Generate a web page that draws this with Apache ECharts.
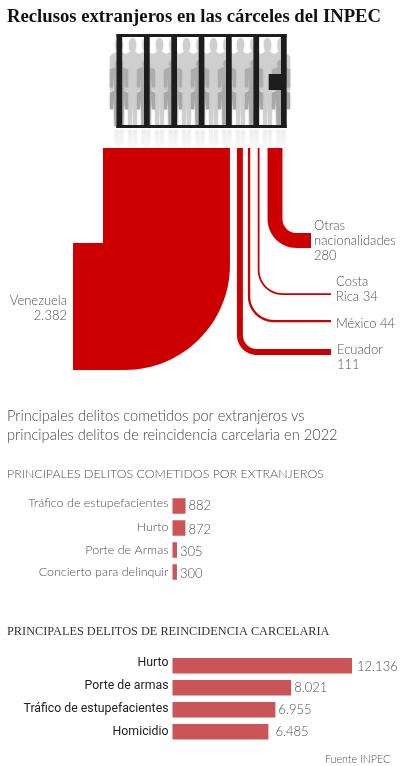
<!DOCTYPE html>
<html>
<head>
<meta charset="utf-8">
<style>html,body{margin:0;padding:0;background:#fff}#chart{width:400px;height:766px}</style>
<script src="https://cdn.jsdelivr.net/npm/echarts@6/dist/echarts.min.js"></script>
</head>
<body>
<div id="chart"></div>
<script>
// reclusos por nacionalidad
var paises = ['Venezuela', 'Ecuador', 'México', 'Costa\nRica', 'Otras\nnacionalidades'];
var reclusos = [2382, 111, 44, 34, 280];

var delitosExtranjeros = ['Tráfico de estupefacientes', 'Hurto', 'Porte de Armas', 'Concierto para delinquir'];
var valoresExtranjeros = [882, 872, 305, 300];

var delitosReincidencia = ['Hurto', 'Porte de armas', 'Tráfico de estupefacientes', 'Homicidio'];
var valoresReincidencia = [12136, 8021, 6955, 6485];

var SANS = 'Lato';
var RED = '#cc0000';
var BAR = '#cb5456';
var GREY = '#505050';

// recorrido de cada franja: hueco previo, fin horizontal, banda final, radio
var gaps = [0, 7, 5, 7.5, 8];
var flowEndX = [73, 331, 331, 331, 311];
var flowBandTop = [243, 349, 320, 293.2, 233];
var flowRadius = [105, 20, 26, 25, 29];
var labelPos = [[67, 308, 'right'], [337, 357.5, 'left'], [336, 324, 'left'], [336, 289, 'left'], [314, 240.5, 'left']];

function miles(v) {
    return String(v).replace(/\B(?=(\d{3})+$)/g, '.');
}

var TOP = 148, FLOW_LEFT = 103;
var K = 0.0533; // px por recluso

function renderFlow(params, api) {
    var i = params.dataIndex;
    var w = api.size([api.value(1), 0])[0];
    var before = 0;
    for (var n = 0; n < i; n++) before += reclusos[n] * K;
    for (n = 0; n <= i; n++) before += gaps[n];
    var x0 = FLOW_LEFT + before, x1 = x0 + w;
    var yT = flowBandTop[i], yB = yT + w;
    var r = flowRadius[i], c = 0.5523, d, rect;
    if (i === 0) {
        // gira a la izquierda
        d = 'M' + x0 + ' ' + TOP + 'L' + x1 + ' ' + TOP + 'L' + x1 + ' ' + (yB - r)
          + 'C' + x1 + ' ' + (yB - r + r * c) + ' ' + (x1 - r + r * c) + ' ' + yB + ' ' + (x1 - r) + ' ' + yB
          + 'L' + flowEndX[i] + ' ' + yB + 'L' + flowEndX[i] + ' ' + yT + 'L' + x0 + ' ' + yT + 'Z';
        rect = { x: flowEndX[i], y: TOP, width: x1 - flowEndX[i], height: yB - TOP };
    } else {
        var ri = Math.max(r - w, 0);
        d = 'M' + x0 + ' ' + TOP + 'L' + x1 + ' ' + TOP + 'L' + x1 + ' ' + (yT - ri)
          + 'C' + x1 + ' ' + (yT - ri + ri * c) + ' ' + (x1 + ri - ri * c) + ' ' + yT + ' ' + (x1 + ri) + ' ' + yT
          + 'L' + flowEndX[i] + ' ' + yT + 'L' + flowEndX[i] + ' ' + yB + 'L' + (x0 + r) + ' ' + yB
          + 'C' + (x0 + r - r * c) + ' ' + yB + ' ' + x0 + ' ' + (yB - r + r * c) + ' ' + x0 + ' ' + (yB - r) + 'Z';
        rect = { x: x0, y: TOP, width: flowEndX[i] - x0, height: yB - TOP };
    }
    var lab = labelPos[i];
    var txt = paises[i] + (i === 0 || i === 1 || i === 4 ? '\n' : ' ') + miles(reclusos[i]);
    return {
        type: 'group',
        children: [
            { type: 'path', shape: { pathData: d, x: rect.x, y: rect.y, width: rect.width, height: rect.height, layout: 'cover' }, style: { fill: RED } },
            { type: 'text', style: { text: txt, x: lab[0], y: lab[1], align: lab[2], verticalAlign: 'middle', fill: GREY, font: '300 13px ' + SANS, lineHeight: 15 } }
        ]
    };
}

// figuras del fondo y reja
var MAN = 'M50 0C62 0 70 10 70 24C70 34 66 42 60 46L92 58C98 60 100 66 100 72L100 180L84 180L80 90L76 180L74 300L54 300L50 190L46 300L26 300L24 180L20 90L16 180L0 180L0 72C0 66 2 60 8 58L40 46C34 42 30 34 30 24C30 10 38 0 50 0Z';

function man(x, y, w, h, color) {
    return {
        type: 'path',
        shape: { pathData: MAN, x: x, y: y, width: w, height: h, layout: 'cover' },
        style: { fill: color, shadowBlur: 2, shadowColor: color }
    };
}

function box(x, y, w, h, fill) {
    return { type: 'rect', shape: { x: x, y: y, width: w, height: h }, style: { fill: fill } };
}

function renderJail() {
    var kids = [];
    var i;
    for (i = 0; i < 13; i++) {
        kids.push(man(110 + i * 13.5, 38, 18, 88, '#cfcfcf'));
        // reflejo
        var m = man(110 + i * 13.5, 38, 18, 88, '#d8d8d8');
        m.scaleY = -1;
        m.y = 256;
        kids.push(m);
    }
    for (i = 0; i < 7; i++) {
        kids.push(man(110 + i * 27, 60, 18, 46, '#adadad'));
        kids.push(man(110 + i * 27, 84, 18, 42, '#a8a8a8'));
    }
    kids.push(box(100, 128, 200, 100, new echarts.graphic.LinearGradient(0, 0, 0, 1, [
        { offset: 0, color: 'rgba(255,255,255,0.5)' },
        { offset: 0.28, color: 'rgba(255,255,255,1)' },
        { offset: 1, color: 'rgba(255,255,255,1)' }
    ])));
    var INK = '#1d1d1d';
    kids.push(box(116.5, 34, 170, 3, INK));
    kids.push(box(116.5, 125, 170, 3, INK));
    [116.5, 144, 171.3, 198.7, 226, 253.4, 281].forEach(function (bx) {
        kids.push(box(bx, 34, 5.7, 94, INK));
    });
    kids.push(box(268.7, 74, 13, 16, INK));
    return { type: 'group', children: kids };
}

function barSeries(values, axis, nudges) {
    return {
        type: 'bar',
        xAxisIndex: axis,
        yAxisIndex: axis,
        barWidth: 15.5,
        silent: true,
        itemStyle: { color: BAR },
        data: values.map(function (v, k) {
            return { value: v, label: { offset: nudges[k] } };
        }),
        label: {
            show: true, position: 'right', distance: 3,
            color: GREY, fontFamily: SANS, fontWeight: 300, fontSize: 13,
            formatter: function (p) { return miles(p.value); }
        }
    };
}

// las etiquetas suben un poco respecto al centro de la barra
function catAxis(idx, data, font) {
    font.formatter = function (value, k) {
        return '{l' + k + '|' + value + '}';
    };
    font.rich = {
        l0: { padding: [0, 0, 6, 0] },
        l1: { padding: [0, 0, 3, 0] },
        l2: { padding: [0, 0, 1, 0] },
        l3: { padding: 0 }
    };
    return {
        type: 'category', gridIndex: idx, inverse: true, data: data,
        axisLine: { show: false }, axisTick: { show: false },
        axisLabel: font
    };
}

function valAxis(idx) {
    return { type: 'value', gridIndex: idx, min: 0, max: 15382, show: false };
}

function heading(text, left, top, font) {
    return { text: text, left: left, top: top, padding: 0, textStyle: font };
}

var chart = echarts.init(document.getElementById('chart'), null, { renderer: 'canvas' });
chart.setOption({
    animation: false,
    backgroundColor: '#fff',
    title: [
        heading('Reclusos extranjeros en las cárceles del INPEC', 7, 8, { fontFamily: 'Liberation Serif', fontWeight: 'bold', fontSize: 18.7, color: '#111' }),
        heading('Principales delitos cometidos por extranjeros vs\nprincipales delitos de reincidencia carcelaria en 2022', 7, 407.5, { fontFamily: SANS, fontWeight: 300, fontSize: 14.6, lineHeight: 18.5, color: '#444' }),
        heading('PRINCIPALES DELITOS COMETIDOS POR EXTRANJEROS', 7, 468, { fontFamily: SANS, fontWeight: 300, fontSize: 12.4, color: GREY }),
        heading('PRINCIPALES DELITOS DE REINCIDENCIA CARCELARIA', 7, 626, { fontFamily: 'Liberation Serif', fontWeight: 'normal', fontSize: 12.3, color: '#333' }),
        heading('Fuente INPEC', 325, 754, { fontFamily: SANS, fontWeight: 300, fontSize: 10.7, color: GREY })
    ],
    grid: [
        { left: 0, top: 0, width: 400, height: 400, show: false },
        { left: 172.5, top: 495, width: 227.5, height: 88, show: false },
        { left: 172.5, top: 654.7, width: 227.5, height: 88, show: false }
    ],
    xAxis: [
        { type: 'value', gridIndex: 0, min: 0, max: 400 / K, show: false },
        valAxis(1),
        valAxis(2)
    ],
    yAxis: [
        { type: 'category', gridIndex: 0, data: paises, show: false },
        catAxis(1, delitosExtranjeros, { color: GREY, fontFamily: SANS, fontWeight: 300, fontSize: 12.5, margin: 4 }),
        catAxis(2, delitosReincidencia, { color: '#222', fontFamily: 'Roboto', fontSize: 12.3, margin: 4 })
    ],
    series: [
        {
            type: 'custom',
            xAxisIndex: 0, yAxisIndex: 0,
            z: 1,
            silent: true,
            clip: false,
            renderItem: renderJail,
            data: [[0, 0]]
        },
        {
            type: 'custom',
            xAxisIndex: 0, yAxisIndex: 0,
            z: 5,
            silent: true,
            renderItem: renderFlow,
            data: reclusos.map(function (v, k) { return [k, v]; }),
            encode: { x: 1, y: 0 }
        },
        barSeries(valoresExtranjeros, 1, [[0, 0], [0, 2], [0, 1.5], [0, 1.5]]),
        barSeries(valoresReincidencia, 2, [[2, 1.5], [0, 0], [0, 0], [4, 0]])
    ]
});
</script>
</body>
</html>
